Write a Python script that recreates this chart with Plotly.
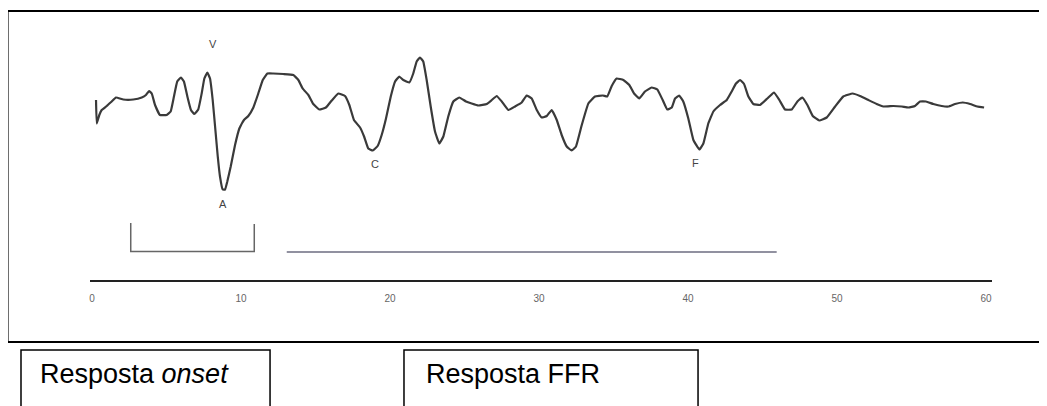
import plotly.graph_objects as go

# Waveform (latency in ms, amplitude in arbitrary µV units)
time_ms = [0.27, 0.32, 0.49, 0.65, 0.99, 1.32, 1.61, 2.10, 2.77, 3.34, 3.62, 3.83, 4.01, 4.23, 4.56,
           5.01, 5.28, 5.50, 5.72, 5.97, 6.17, 6.40, 6.64, 6.87, 7.13, 7.36, 7.54, 7.74, 7.92, 8.10,
           8.26, 8.44, 8.59, 8.77, 8.93, 9.08, 9.31, 9.60, 9.89, 10.20, 10.49, 10.83, 11.16, 11.46,
           11.77, 12.17, 12.84, 13.51, 13.85, 14.14, 14.52, 14.85, 15.26, 15.70, 16.09, 16.53, 16.98,
           17.27, 17.58, 17.99, 18.26, 18.54, 18.84, 19.17, 19.44, 19.73, 20.05, 20.34, 20.62, 20.89,
           21.30, 21.56, 21.79, 22.01, 22.23, 22.46, 22.73, 23.02, 23.31, 23.58, 23.91, 24.25, 24.65,
           25.10, 25.48, 25.93, 26.49, 26.83, 27.16, 27.50, 27.94, 28.39, 28.84, 29.17, 29.51, 29.85,
           30.18, 30.52, 30.85, 31.19, 31.52, 31.86, 32.19, 32.48, 32.87, 33.31, 33.76, 34.28, 34.58,
           34.88, 35.21, 35.66, 36.06, 36.38, 36.73, 37.11, 37.56, 37.94, 38.30, 38.61, 38.91, 39.13,
           39.40, 39.68, 40.02, 40.36, 40.76, 41.03, 41.36, 41.70, 42.15, 42.60, 42.93, 43.22, 43.49,
           43.76, 44.05, 44.38, 44.83, 45.32, 45.77, 46.13, 46.51, 46.96, 47.34, 47.67, 48.01, 48.37,
           48.81, 49.31, 49.87, 50.42, 51.05, 51.54, 52.10, 52.66, 53.11, 53.78, 54.34, 54.79, 55.23,
           55.57, 55.97, 56.46, 57.03, 57.47, 57.92, 58.44, 58.93, 59.42, 59.87]
amplitude = [0.00, -0.47, -0.30, -0.20, -0.12, -0.03, 0.05, 0.01, 0.01, 0.05, 0.10, 0.18, 0.13, -0.10, -0.30,
             -0.30, -0.23, 0.07, 0.37, 0.45, 0.37, 0.07, -0.20, -0.28, -0.19, 0.13, 0.43, 0.55, 0.43, 0.00,
             -0.53, -1.13, -1.53, -1.79, -1.79, -1.63, -1.33, -0.90, -0.57, -0.40, -0.32, -0.15, 0.13, 0.40,
             0.53, 0.53, 0.52, 0.50, 0.40, 0.23, 0.10, -0.08, -0.19, -0.15, -0.01, 0.13, 0.08,
             -0.10, -0.40, -0.55, -0.73, -0.97, -1.01, -0.92, -0.70, -0.37, 0.07, 0.37, 0.47, 0.40,
             0.35, 0.53, 0.77, 0.85, 0.77, 0.40, -0.13, -0.63, -0.87, -0.73, -0.33, -0.03, 0.05,
             -0.03, -0.07, -0.11, -0.08, 0.00, 0.08, -0.03, -0.20, -0.13, -0.05, 0.09, 0.03, -0.20,
             -0.35, -0.32, -0.20, -0.40, -0.70, -0.93, -1.01, -0.93, -0.50, -0.07, 0.07, 0.09, 0.07,
             0.28, 0.43, 0.40, 0.30, 0.13, 0.03, 0.17, 0.25, 0.21, 0.00, -0.19, -0.15, 0.03,
             0.09, -0.03, -0.37, -0.80, -0.99, -0.87, -0.47, -0.23, -0.10, 0.00, 0.17, 0.33, 0.40,
             0.32, 0.07, -0.08, -0.10, 0.03, 0.15, 0.00, -0.19, -0.19, -0.03, 0.05, -0.10, -0.32,
             -0.41, -0.35, -0.13, 0.07, 0.13, 0.08, 0.00, -0.08, -0.13, -0.12, -0.13, -0.15, -0.12,
             -0.03, -0.03, -0.08, -0.12, -0.13, -0.08, -0.05, -0.08, -0.13, -0.15]

# Peak labels
peak_labels = ["V", "A", "C", "F"]
peak_times = [8.10, 8.77, 18.99, 40.47]
peak_label_amps = [1.13, -2.07, -1.27, -1.25]

# Time windows (ms)
onset_window = [2.60, 10.89]
ffr_window = [13.07, 45.95]

tick_values = [0, 10, 20, 30, 40, 50, 60]
tick_labels = ["0", "10", "20", "30", "40", "50", "60"]

box_texts = ["Resposta <i>onset</i>", "Resposta FFR"]

fig = go.Figure()
fig.add_trace(go.Scatter(
    x=time_ms, y=amplitude, mode="lines",
    line=dict(color="#3a3a3a", width=2.2, shape="spline", smoothing=0.3),
    hoverinfo="skip", showlegend=False,
))

for lab, t, a in zip(peak_labels, peak_times, peak_label_amps):
    fig.add_annotation(x=t, y=a, text=lab, showarrow=False,
                       font=dict(family="Liberation Sans, Arial", size=11, color="#444"))

# onset bracket
b0, b1 = onset_window
fig.add_trace(go.Scatter(
    x=[b0, b0, b1, b1], y=[-2.46, -3.03, -3.03, -2.48], mode="lines",
    line=dict(color="#666", width=1.5), hoverinfo="skip", showlegend=False,
))
# FFR line
fig.add_trace(go.Scatter(
    x=ffr_window, y=[-3.04, -3.04], mode="lines",
    line=dict(color="#6c6c80", width=1.5), hoverinfo="skip", showlegend=False,
))

# outer frame
fig.add_shape(type="rect", xref="paper", yref="paper",
              x0=-0.0915, x1=1.08, y0=-0.2296, y1=0.9963,
              line=dict(color="black", width=2.2))
# text boxes
fig.add_shape(type="rect", xref="paper", yref="paper",
              x0=-0.0765, x1=0.1996, y0=-0.60, y1=-0.2593,
              line=dict(color="black", width=1.5))
fig.add_shape(type="rect", xref="paper", yref="paper",
              x0=0.3481, x1=0.6741, y0=-0.60, y1=-0.2593,
              line=dict(color="black", width=1.5))
fig.add_annotation(xref="paper", yref="paper", x=(38 - 90) / 902, y=(280 - 374) / 270,
                   xanchor="left", yanchor="middle", text=box_texts[0], showarrow=False,
                   font=dict(family="Liberation Sans, Arial", size=27, color="black"))
fig.add_annotation(xref="paper", yref="paper", x=(424 - 90) / 902, y=(280 - 374) / 270,
                   xanchor="left", yanchor="middle", text=box_texts[1], showarrow=False,
                   font=dict(family="Liberation Sans, Arial", size=27, color="black"))

fig.update_layout(
    width=1047, height=406,
    margin=dict(l=82, r=63, t=2, b=134),
    paper_bgcolor="white", plot_bgcolor="white",
    xaxis=dict(range=[-0.134, 60.40], showgrid=False, zeroline=False,
               showline=True, linecolor="#222", linewidth=2,
               tickmode="array", tickvals=tick_values, ticktext=tick_labels,
               ticks="outside", ticklen=8, tickcolor="rgba(0,0,0,0)",
               tickfont=dict(family="Liberation Sans, Arial", size=10, color="#666")),
    yaxis=dict(range=[-3.6, 1.8], visible=False, showgrid=False, zeroline=False),
    showlegend=False,
)

fig.write_html("out.html")
